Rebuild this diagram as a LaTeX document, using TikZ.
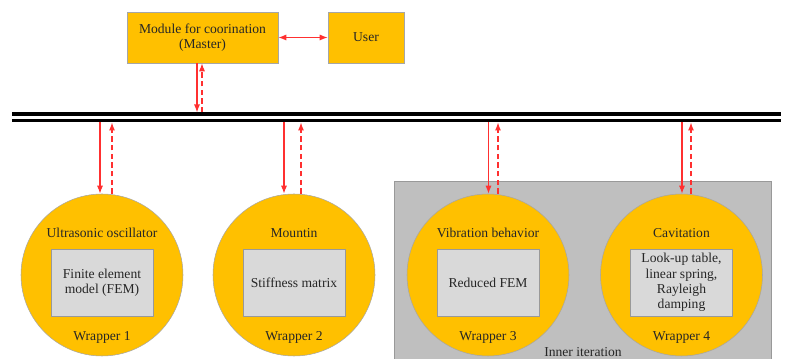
\documentclass[tikz,border=0pt]{standalone}
\usepackage{fontspec}
\setmainfont{Liberation Serif}
\usetikzlibrary{arrows.meta}
\definecolor{gold}{HTML}{FFC000}
\definecolor{inbox}{HTML}{D9D9D9}
\definecolor{bgray}{HTML}{BFBFBF}
\definecolor{arr}{HTML}{FF3030}
\definecolor{txt}{HTML}{262626}
\tikzset{
  tip/.tip={Latex[length=6pt,width=4.5pt]},
  goldbox/.style={draw=black!35, line width=0.4pt, fill=gold, inner sep=0pt, align=center, text=txt, font=\fontsize{10.2}{11.5}\selectfont},
  wrapc/.style={circle, draw=black!35, line width=0.4pt, fill=gold, inner sep=0pt, minimum size=121.5pt},
  innerbox/.style={draw=black!40, line width=0.4pt, fill=inbox, inner sep=0pt, minimum width=76.5pt, minimum height=50pt, align=center, text=txt, font=\fontsize{10.2}{11.5}\selectfont},
  lbl/.style={font=\fontsize{10.2}{12}\selectfont, text=txt, inner sep=0pt},
  solarr/.style={draw=arr, line width=0.8pt, -tip},
  dasharr/.style={draw=arr, line width=0.8pt, dash pattern=on 4pt off 2.5pt, -tip},
  busline/.style={draw=black, line width=2.3pt}
}
\begin{document}
\begin{tikzpicture}[x=0.75pt,y=-0.75pt]
\useasboundingbox (0,0) rectangle (793,359);
% inner iteration background
\fill[bgray, draw=black!40, line width=0.4pt] (394,181) rectangle (771,380);
\node[lbl] (inner) at (583,352) {Inner iteration};
% top boxes
\node[goldbox, minimum width=113.25pt, minimum height=38.25pt] (master) at (202.5,37.5) {Module for coorination\\(Master)};
\node[goldbox, minimum width=57pt, minimum height=38.25pt] (user) at (366,37.5) {User};
\draw[draw=arr, line width=0.8pt, tip-tip] (master.east) -- (user.west);
% bus
\coordinate (busTL) at (12,114);
\coordinate (busTR) at (781,114);
\coordinate (busBL) at (12,120.5);
\coordinate (busBR) at (781,120.5);
\draw[busline] (busTL) -- (busTR);
\draw[busline] (busBL) -- (busBR);
% master arrows
\coordinate (ms) at (197,112.5);
\coordinate (md) at (202,112.5);
\draw[solarr] (ms |- master.south) -- (ms);
\draw[dasharr] (md) -- (md |- master.south);
% wrappers
\foreach \i/\cx/\t/\inner in {1/102/Ultrasonic oscillator/{Finite element\\model (FEM)},2/294/Mountin/Stiffness matrix,3/488/Vibration behavior/Reduced FEM,4/681.5/Cavitation/{Look-up table,\\linear spring,\\Rayleigh\\damping}}{
  \node[wrapc] (w\i) at (\cx,275) {};
  \node[innerbox] (in\i) at (\cx,282.5) {\inner};
  \node[lbl] (t\i) at (\cx,233) {\t};
  \node[lbl] (l\i) at (\cx,337) {Wrapper \i};
}
% wrapper arrows
\foreach \i/\sx/\dx in {1/100/112,2/284/301,3/488.5/498,4/682/691}{
  \coordinate (s\i) at (\sx,122.5);
  \coordinate (d\i) at (\dx,122.5);
  \draw[solarr] (s\i) -- (s\i |- w\i.north);
  \draw[dasharr] (d\i |- w\i.north) -- (d\i);
}
\end{tikzpicture}
\end{document}
